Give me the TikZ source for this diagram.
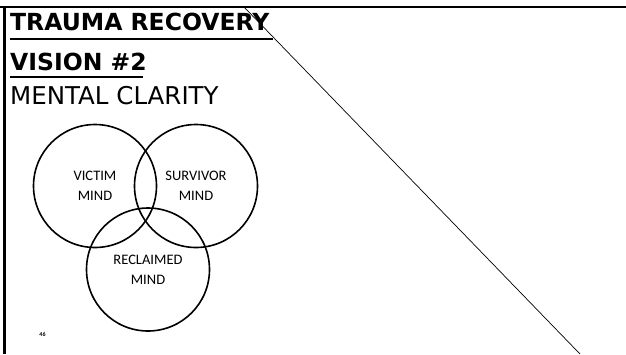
\documentclass[tikz,border=0pt]{standalone}
\usepackage{fontspec}
\setmainfont{DejaVu Sans}
\newfontfamily\venn{Carlito}
\begin{document}
\begin{tikzpicture}[x=1pt,y=-1pt,
  title/.style={anchor=base west,inner sep=0pt,font=\fontsize{23.5}{26}\selectfont\bfseries},
  subtitle/.style={anchor=base west,inner sep=0pt,font=\fontsize{24.5}{28}\selectfont},
  vennc/.style={draw,circle,line width=1.6pt,minimum size=123pt,inner sep=0pt,align=center,
    font=\venn\fontsize{14.5}{20}\selectfont},
  frame/.style={line width=2pt},
  uline/.style={line width=1.8pt}]
\useasboundingbox (0,0) rectangle (626,354);
% frame
\draw[frame] (0,7) -- (626,7);
\draw[line width=3pt] (4.5,6) -- (4.5,354);
% diagonal
\coordinate (d1) at (244,7);
\coordinate (d2) at (580,354);
\draw[line width=0.7pt] (d1) -- (d2);
% titles
\node[title] (t1) at (10,30) {TRAUMA RECOVERY};
\node[title] (t2) at (10,70) {VISION \#2};
\node[subtitle] (t3) at (10,104) {MENTAL CLARITY};
\draw[uline] (t1.base west)++(0,9) -- (273,39);
\draw[uline] (t2.base west)++(0,7) -- (143,77);
% circles
\node[vennc] (victim) at (95,186) {VICTIM\\MIND};
\node[vennc] (survivor) at (196,186) {SURVIVOR\\MIND};
\node[vennc] (reclaimed) at (148,269.5) {RECLAIMED\\MIND};
% page number
\node[inner sep=0pt,font=\venn\bfseries\fontsize{6}{7}\selectfont] (pg) at (42.5,334) {46};
\end{tikzpicture}
\end{document}
